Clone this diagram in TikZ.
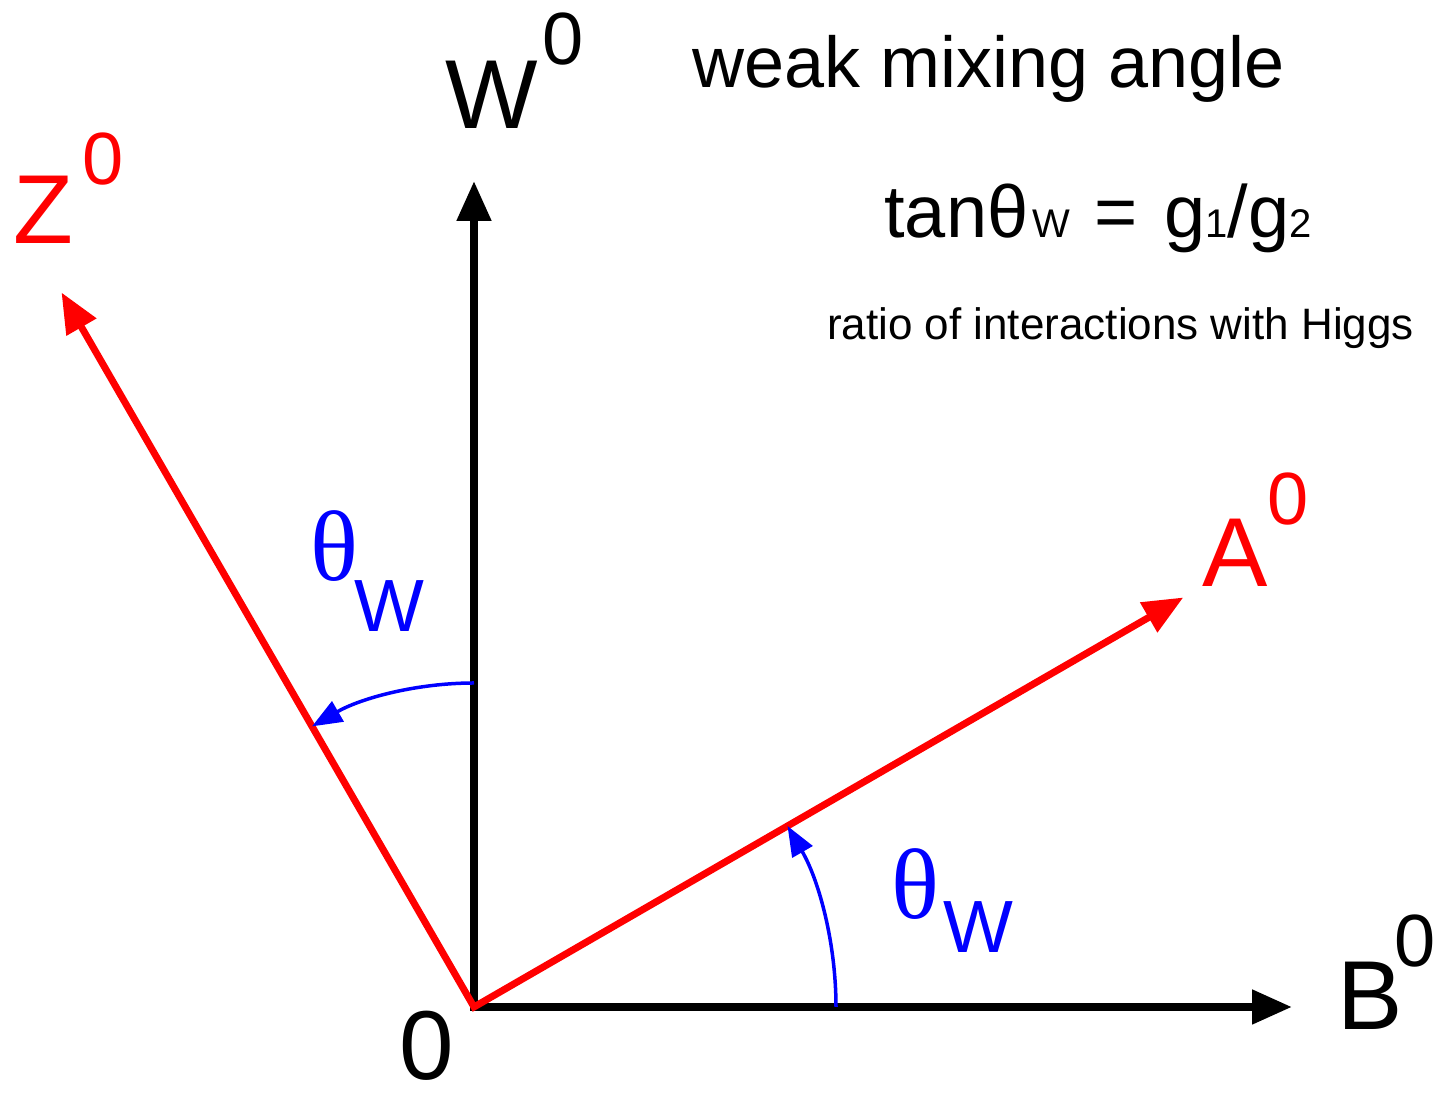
\documentclass[tikz,border=0pt]{standalone}
\usepackage{fontspec}
\setmainfont{Liberation Sans}
\newfontfamily\greekserif{Liberation Serif}
\usetikzlibrary{arrows.meta}
\newcommand{\smallidx}[1]{{\fontsize{20}{20}\selectfont #1}}
\begin{document}
\begin{tikzpicture}[x=0.5pt, y=0.5pt,
  axisline/.style={line width=4pt, line join=miter,
    {Triangle[length=20pt,width=16.5pt]}-{Triangle[length=20pt,width=16.5pt]}},
  bosonline/.style={axisline, draw=red, line width=3.5pt},
  anglearc/.style={draw=blue, line width=1.75pt, -{Triangle[length=15pt,width=11.5pt]}},
  biglabel/.style={inner sep=0pt, font=\fontsize{49}{49}\selectfont},
  zerolabel/.style={inner sep=0pt, font=\fontsize{37}{37}\selectfont},
  thetalabel/.style={inner sep=0pt, text=blue, font=\fontsize{50}{50}\greekserif},
  indexlabel/.style={inner sep=0pt, text=blue, font=\fontsize{37}{37}\selectfont}]
% picture frame (pixels of the reference, y upwards)
\useasboundingbox (0,0) rectangle (1441,1095);
\def\arcW{324}
\def\arcB{362}
% axes and rotated bosons
\coordinate (O) at (474,88);
\coordinate (Wtip) at (474,914);
\coordinate (Btip) at (1292,88);
\path (O) ++(120:825) coordinate (Ztip);
\path (O) ++(30:819) coordinate (Atip);
\draw[axisline] (Wtip) -- (O) -- (Btip);
\draw[bosonline] (Ztip) -- (O) -- (Atip);
% mixing angles
\path (O) ++(90:\arcW) coordinate (arcWstart);
\path (O) ++(0:\arcB) coordinate (arcBstart);
\draw[anglearc] (arcWstart) arc[start angle=90, end angle=120, radius=\arcW];
\draw[anglearc] (arcBstart) arc[start angle=0, end angle=30, radius=\arcB];
% axis labels
\node[biglabel] (Wlbl) at (492,1000) {W};
\node[zerolabel] (Wsup) at (563.5,1055.5) {0};
\node[biglabel, text=red] (Zlbl) at (43,885) {Z};
\node[zerolabel, text=red] (Zsup) at (103,936) {0};
\node[biglabel, text=red] (Albl) at (1235,542.5) {A};
\node[zerolabel, text=red] (Asup) at (1288,595.5) {0};
\node[biglabel] (Blbl) at (1370.5,99) {B};
\node[zerolabel] (Bsup) at (1415.5,154) {0};
\node[biglabel] (Olbl) at (427,49) {0};
% angle labels
\node[thetalabel] (thetaZ) at (334.5,549) {θ};
\node[indexlabel] (thetaZidx) at (389,488.5) {W};
\node[thetalabel] (thetaA) at (915,211) {θ};
\node[indexlabel] (thetaAidx) at (978.5,167.5) {W};
% notes
\node[anchor=base, inner sep=0pt, font=\fontsize{36}{36}\selectfont] (title) at (989,1007) {weak mixing angle};
\node[anchor=base west, inner sep=0pt, font=\fontsize{37}{37}\selectfont] (tanlbl) at (884,857)
  {tanθ\kern2pt\smallidx{W}\kern2pt{} = \kern3pt g\smallidx{1}/g\smallidx{2}};
\node[anchor=base, inner sep=0pt, font=\fontsize{22}{22}\selectfont] (ratio) at (1120.5,755) {ratio of interactions with Higgs};
\end{tikzpicture}
\end{document}
